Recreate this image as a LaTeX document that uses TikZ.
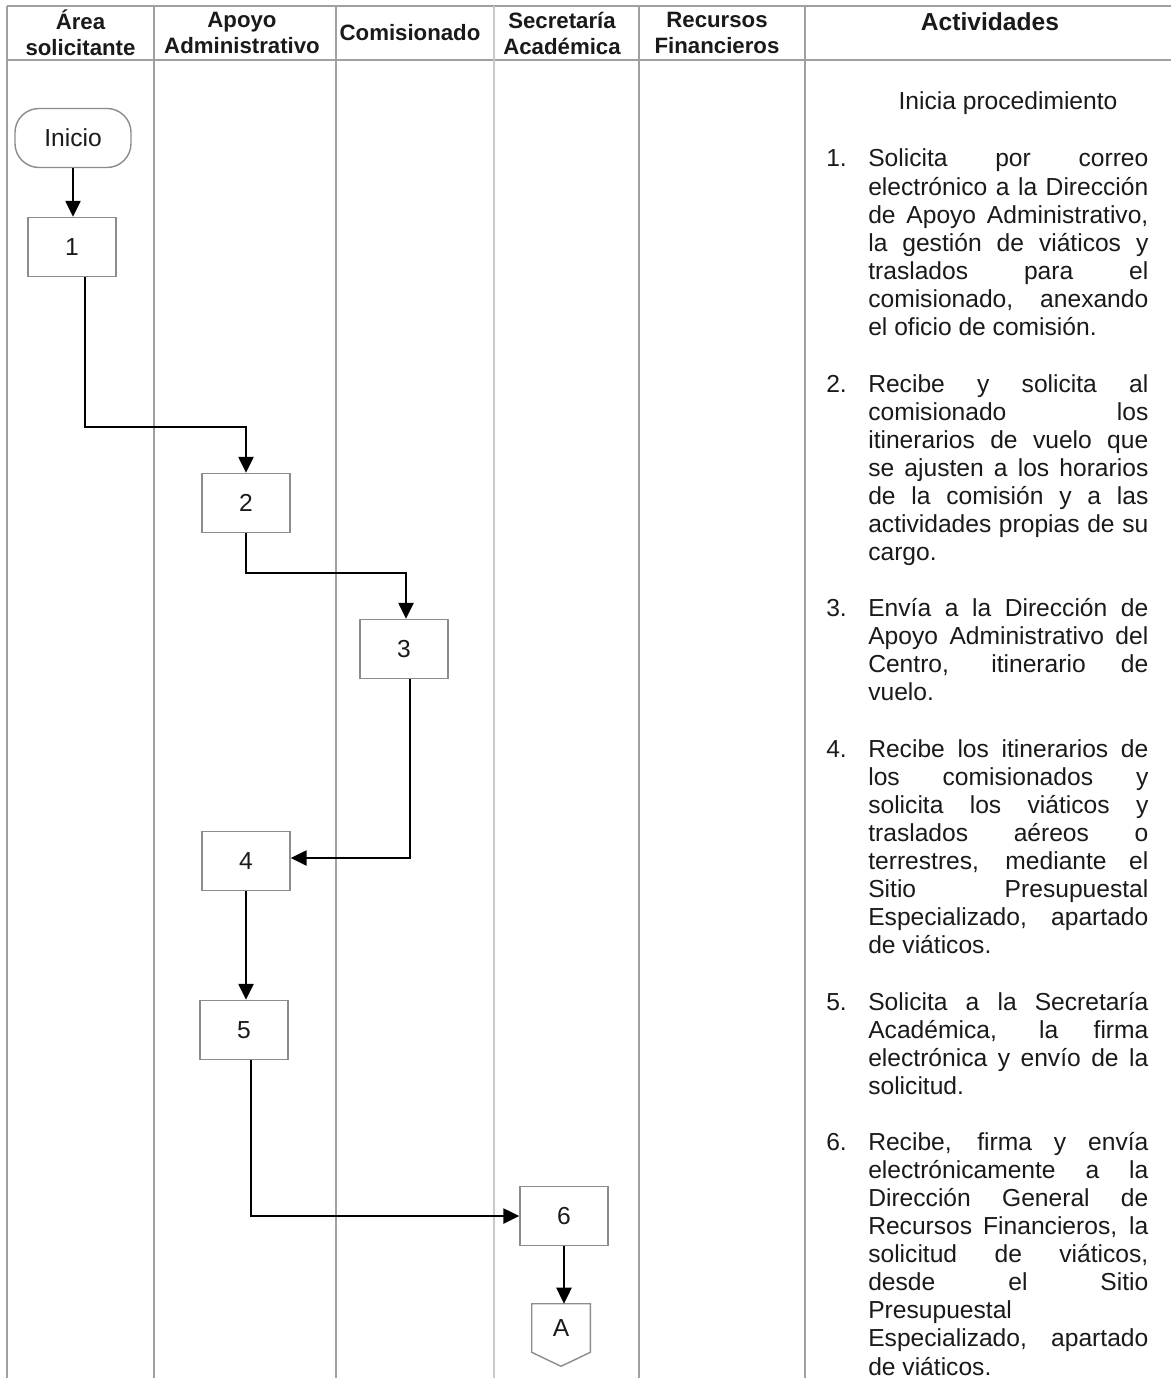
\documentclass[tikz,border=0pt]{standalone}
\usepackage{fontspec}
\setmainfont{Liberation Sans}
\usetikzlibrary{arrows.meta, positioning, calc}
\definecolor{lanegray}{HTML}{A0A0A0}
\definecolor{lanelight}{HTML}{C8C8C8}
\definecolor{boxgray}{HTML}{8C8C8C}
\definecolor{inkdark}{HTML}{1A1A1A}
\newcommand{\pasobox}[4]{%
  \node[paso] (#1) at (#2,#3) {#4};}
\newcommand{\actividad}[3]{%
  \node[anchor=base west, inner sep=0pt, font=\actfont, text=inkdark] (n#1) at (826,#2) {#1.};
  \node[anchor=base west, inner sep=0pt, text width=7.0cm, align=justify,
        font=\actfont, text=inkdark] (t#1) at (868,#2)
        {\hyphenpenalty=10000\tolerance=10000 #3};}
\newcommand{\actfont}{\fontsize{17.5}{20}\selectfont}

\begin{document}
\begin{tikzpicture}[x=0.025cm, y=-0.025cm,
    lane/.style={draw=lanegray, line width=1.2pt},
    paso/.style={draw=boxgray, line width=1pt, fill=white, minimum width=2.2cm,
      minimum height=1.475cm, font=\actfont, text=inkdark},
    inicio/.style={paso, minimum width=2.9cm, rounded corners=0.6cm},
    cabeza/.style={align=center, font=\fontsize{15.8}{18.5}\selectfont\bfseries,
      text=inkdark, inner sep=0pt},
    flecha/.style={-{Triangle[length=4mm, width=3.8mm]}, line width=1.3pt, black}]
  \path[use as bounding box, fill=white] (0,0) rectangle (1171,1378);

  % carriles
  \draw[lane] (7,6) -- (1171,6);
  \draw[lane] (7,60) -- (1171,60);
  \foreach \x in {7,154,336,639,805}
    \draw[lane] (\x,6) -- (\x,1378);
  \draw[draw=lanelight, line width=2pt] (494,6) -- (494,1378);

  % encabezados
  \node[cabeza] (hArea) at (80.5,33) {Área\\solicitante};
  \node[cabeza] (hApoyo) at (242,33) {Apoyo\\Administrativo};
  \node[cabeza] (hComis) at (410,33) {Comisionado};
  \node[cabeza] (hSecre) at (562,33) {Secretaría\\Académica};
  \node[cabeza] (hRecur) at (717,33) {Recursos\\Financieros};
  \node[cabeza, font=\fontsize{17.5}{20}\selectfont\bfseries] (hActiv) at (990,22) {Actividades};

  % diagrama
  \node[inicio] (ini) at (73,138) {Inicio};
  \pasobox{b1}{72}{247}{1}
  \pasobox{b2}{246}{503}{2}
  \pasobox{b3}{404}{649}{3}
  \pasobox{b4}{246}{861}{4}
  \pasobox{b5}{244}{1030}{5}
  \pasobox{b6}{564}{1216}{6}
  \node[minimum width=1.45cm, minimum height=1.2cm, inner sep=0pt,
        font=\actfont, text=inkdark] (conA) at (561,1328) {A};
  \draw[draw=boxgray, line width=1pt] (conA.north west) -- (conA.north east)
    -- (conA.south east) -- ($(conA.south)+(0,14)$) -- (conA.south west) -- cycle;

  \draw[flecha] (ini.south) -- (ini.south |- b1.north);
  \draw[flecha] ($(b1.south)+(13,0)$) |- ($(b2.north)+(0,-46)$) -| (b2.north);
  \draw[flecha] (b2.south) |- ($(b3.north)+(0,-46)$) -| ($(b3.north)+(2,0)$);
  \draw[flecha] ($(b3.south)+(6,0)$) |- ($(b4.east)+(0,-3)$);
  \draw[flecha] (b4.south) -- (b4.south |- b5.north);
  \draw[flecha] ($(b5.south)+(7,0)$) |- (b6.west);
  \draw[flecha] (b6.south) -- (b6.south |- conA.north);

  % actividades
  \node[font=\actfont, text=inkdark] (inicia) at (1008,103) {Inicia procedimiento};
  \actividad{1}{167}{Solicita por correo\linebreak electrónico a la Dirección\linebreak
    de Apoyo Administrativo,\linebreak la gestión de viáticos y\linebreak
    traslados para el\linebreak comisionado, anexando\linebreak el oficio de comisión.}
  \actividad{2}{392}{Recibe y solicita al\linebreak comisionado los\linebreak
    itinerarios de vuelo que\linebreak se ajusten a los horarios\linebreak
    de la comisión y a las\linebreak actividades propias de su\linebreak cargo.}
  \actividad{3}{616}{Envía a la Dirección de\linebreak Apoyo Administrativo del\linebreak
    Centro, itinerario de\linebreak vuelo.}
  \actividad{4}{757}{Recibe los itinerarios de\linebreak los comisionados y\linebreak
    solicita los viáticos y\linebreak traslados aéreos o\linebreak
    terrestres, mediante el\linebreak Sitio Presupuestal\linebreak
    Especializado, apartado\linebreak de viáticos.}
  \actividad{5}{1010}{Solicita a la Secretaría\linebreak Académica, la firma\linebreak
    electrónica y envío de la\linebreak solicitud.}
  \actividad{6}{1150}{Recibe, firma y envía\linebreak electrónicamente a la\linebreak
    Dirección General de\linebreak Recursos Financieros, la\linebreak
    solicitud de viáticos,\linebreak desde el Sitio\linebreak Presupuestal\linebreak
    Especializado, apartado\linebreak de viáticos.}
\end{tikzpicture}
\end{document}
